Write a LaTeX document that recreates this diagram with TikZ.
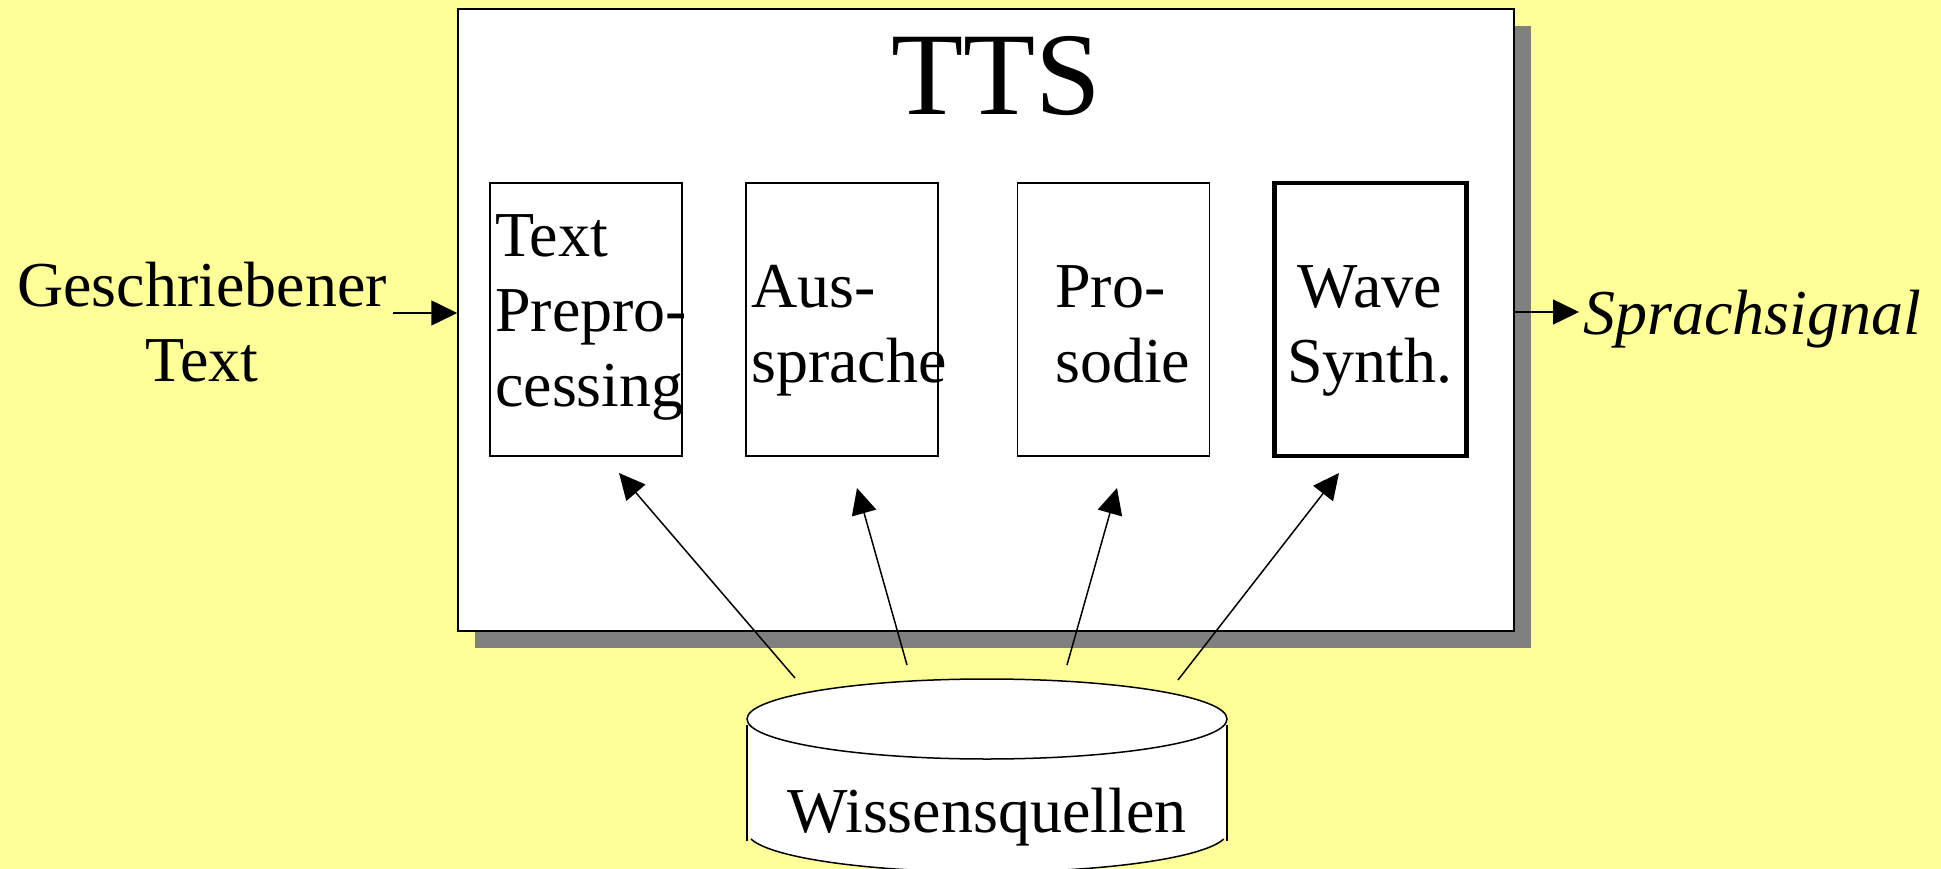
\documentclass[tikz,border=0pt]{standalone}
\usepackage{fontspec}
\setmainfont{Liberation Serif}
\usetikzlibrary{arrows.meta,shadows}
\definecolor{bgyellow}{RGB}{255,255,153}
\definecolor{shadowgray}{RGB}{128,128,128}
\begin{document}
\begin{tikzpicture}[x=1pt,y=-1pt,
  thinline/.style={line width=1.5pt},
  mainbox/.style={draw, line width=1.5pt, fill=white, minimum width=1056pt, minimum height=622pt, inner sep=0pt,
    drop shadow={shadow xshift=17pt, shadow yshift=-17pt, fill=shadowgray, opacity=1}},
  stagebox/.style={draw, line width=1.5pt, fill=white, minimum width=192pt, minimum height=273pt, inner sep=0pt},
  body/.style={font=\fontsize{64}{75}\selectfont, inner sep=0pt},
  arr/.style={line width=1.5pt, -{Triangle[length=26pt,width=25pt]}}
]
\useasboundingbox (0,0) rectangle (1941,869);
\fill[bgyellow] (0,0) rectangle (1941,869);

% main TTS box
\node[mainbox] (main) at (986,320) {};
\node[font=\fontsize{118}{130}\selectfont, inner sep=0pt, anchor=base] (title) at (996,115) {TTS};

% stage boxes
\node[stagebox] (b1) at (586,319.5) {};
\node[stagebox] (b2) at (842,319.5) {};
\node[stagebox] (b3) at (1113.5,319.5) {};
\node[stagebox, line width=4.5pt] (b4) at (1370.5,319.5) {};

\node[body, text width=200pt, align=left, anchor=base west] (t1) at (495,256) {Text\\Prepro-\\cessing};
\node[body, text width=200pt, align=left, anchor=base west] (t2) at (751,307) {Aus-\\sprache};
\node[body, text width=150pt, align=left, anchor=base west] (t3) at (1055,307) {Pro-\\sodie};
\node[body, text width=192pt, align=center, anchor=base] (t4) at (1370,307) {Wave\\Synth.};

% input
\node[body, text width=400pt, align=center, anchor=base] (intext) at (202,306) {Geschriebener\\Text};
\coordinate (inS) at (393,313);
\draw[arr] (inS) -- (inS -| main.west);

% output
\node[body, anchor=base west, font=\fontsize{64}{75}\selectfont\itshape] (sig) at (1583,334) {Sprachsignal};
\coordinate (outS) at (1514,312);
\coordinate (outE) at (1579,312);
\draw[arr] (outS) -- (outE);

% cylinder
\fill[white] (747,719) rectangle (1227,832);
\fill[white] (987,832) ellipse[x radius=240, y radius=40];
\draw[thinline] (747,725) -- (747,841);
\draw[thinline] (1227,725) -- (1227,841);
\draw[thinline] (751,839) arc[start angle=170, end angle=10, x radius=240, y radius=40];
\draw[thinline, fill=white] (987,719) ellipse[x radius=240, y radius=40];
\node[body, anchor=base] (ws) at (987,832) {Wissensquellen};

% knowledge arrows
\coordinate (s1) at (795,678);
\coordinate (e1) at (619,473);
\coordinate (s2) at (907,665);
\coordinate (e2) at (857,488);
\coordinate (s3) at (1067,665);
\coordinate (e3) at (1117,488);
\coordinate (s4) at (1178,680);
\coordinate (e4) at (1339,473);
\draw[arr] (s1) -- (e1);
\draw[arr] (s2) -- (e2);
\draw[arr] (s3) -- (e3);
\draw[arr] (s4) -- (e4);
\end{tikzpicture}
\end{document}
